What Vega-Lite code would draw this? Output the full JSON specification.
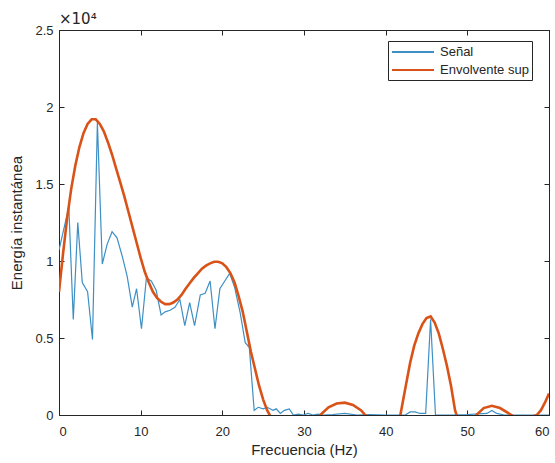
{
  "$schema": "https://vega.github.io/schema/vega-lite/v6.json",
  "width": 490,
  "height": 385,
  "autosize": {"type": "none"},
  "padding": {"left": 59, "top": 30, "right": 6, "bottom": 48},
  "background": "white",
  "title": {"text": "×10⁴", "anchor": "start", "frame": "group", "fontSize": 15, "fontWeight": "normal", "color": "#262626", "font": "DejaVu Sans", "offset": -3},
  "config": {
    "view": {"stroke": "#262626", "strokeWidth": 1},
    "font": "Liberation Sans",
    "axis": {"domainColor": "#262626", "tickColor": "#262626", "labelColor": "#262626", "titleColor": "#262626", "labelFont": "Liberation Sans", "titleFont": "Liberation Sans", "labelFontSize": 13, "titleFontSize": 15, "titleFontWeight": "normal", "grid": false, "tickSize": -5}
  },
  "data": {
    "values": [
      {"f": 0.0, "v": 10700, "serie": "Señal"},
      {"f": 1.2, "v": 13500, "serie": "Señal"},
      {"f": 1.75, "v": 6200, "serie": "Señal"},
      {"f": 2.3, "v": 12500, "serie": "Señal"},
      {"f": 2.85, "v": 8600, "serie": "Señal"},
      {"f": 3.5, "v": 8000, "serie": "Señal"},
      {"f": 4.1, "v": 4900, "serie": "Señal"},
      {"f": 4.7, "v": 19000, "serie": "Señal"},
      {"f": 5.3, "v": 9800, "serie": "Señal"},
      {"f": 5.9, "v": 11100, "serie": "Señal"},
      {"f": 6.5, "v": 11900, "serie": "Señal"},
      {"f": 7.1, "v": 11500, "serie": "Señal"},
      {"f": 7.75, "v": 10300, "serie": "Señal"},
      {"f": 8.35, "v": 9000, "serie": "Señal"},
      {"f": 8.97, "v": 7000, "serie": "Señal"},
      {"f": 9.5, "v": 8200, "serie": "Señal"},
      {"f": 10.1, "v": 5600, "serie": "Señal"},
      {"f": 10.7, "v": 8900, "serie": "Señal"},
      {"f": 11.3, "v": 8700, "serie": "Señal"},
      {"f": 11.9, "v": 8100, "serie": "Señal"},
      {"f": 12.5, "v": 6500, "serie": "Señal"},
      {"f": 13.0, "v": 6700, "serie": "Señal"},
      {"f": 13.6, "v": 6800, "serie": "Señal"},
      {"f": 14.2, "v": 7000, "serie": "Señal"},
      {"f": 14.8, "v": 7500, "serie": "Señal"},
      {"f": 15.4, "v": 5800, "serie": "Señal"},
      {"f": 16.0, "v": 7300, "serie": "Señal"},
      {"f": 16.6, "v": 5800, "serie": "Señal"},
      {"f": 17.3, "v": 7800, "serie": "Señal"},
      {"f": 17.9, "v": 7900, "serie": "Señal"},
      {"f": 18.5, "v": 8700, "serie": "Señal"},
      {"f": 19.1, "v": 5600, "serie": "Señal"},
      {"f": 19.7, "v": 8200, "serie": "Señal"},
      {"f": 20.3, "v": 8700, "serie": "Señal"},
      {"f": 20.9, "v": 9200, "serie": "Señal"},
      {"f": 21.5, "v": 8300, "serie": "Señal"},
      {"f": 22.2, "v": 6600, "serie": "Señal"},
      {"f": 22.8, "v": 4700, "serie": "Señal"},
      {"f": 23.3, "v": 4400, "serie": "Señal"},
      {"f": 23.9, "v": 300, "serie": "Señal"},
      {"f": 24.4, "v": 500, "serie": "Señal"},
      {"f": 25.0, "v": 400, "serie": "Señal"},
      {"f": 25.5, "v": 500, "serie": "Señal"},
      {"f": 26.2, "v": 300, "serie": "Señal"},
      {"f": 26.6, "v": 400, "serie": "Señal"},
      {"f": 27.1, "v": 100, "serie": "Señal"},
      {"f": 27.6, "v": 300, "serie": "Señal"},
      {"f": 28.2, "v": 400, "serie": "Señal"},
      {"f": 28.7, "v": 0, "serie": "Señal"},
      {"f": 29.3, "v": 50, "serie": "Señal"},
      {"f": 29.9, "v": 0, "serie": "Señal"},
      {"f": 30.5, "v": 100, "serie": "Señal"},
      {"f": 31.1, "v": 0, "serie": "Señal"},
      {"f": 31.7, "v": 50, "serie": "Señal"},
      {"f": 32.3, "v": 0, "serie": "Señal"},
      {"f": 33.5, "v": 30, "serie": "Señal"},
      {"f": 35.0, "v": 100, "serie": "Señal"},
      {"f": 36.5, "v": 0, "serie": "Señal"},
      {"f": 38.0, "v": 30, "serie": "Señal"},
      {"f": 40.0, "v": 0, "serie": "Señal"},
      {"f": 42.4, "v": 0, "serie": "Señal"},
      {"f": 43.0, "v": 200, "serie": "Señal"},
      {"f": 43.6, "v": 200, "serie": "Señal"},
      {"f": 44.2, "v": 100, "serie": "Señal"},
      {"f": 44.9, "v": 100, "serie": "Señal"},
      {"f": 45.5, "v": 6200, "serie": "Señal"},
      {"f": 46.1, "v": 0, "serie": "Señal"},
      {"f": 48.0, "v": 0, "serie": "Señal"},
      {"f": 50.0, "v": 30, "serie": "Señal"},
      {"f": 52.4, "v": 100, "serie": "Señal"},
      {"f": 53.0, "v": 300, "serie": "Señal"},
      {"f": 53.6, "v": 100, "serie": "Señal"},
      {"f": 54.5, "v": 0, "serie": "Señal"},
      {"f": 60.0, "v": 0, "serie": "Señal"},
      {"f": 0, "v": 8000, "serie": "Envolvente sup"},
      {"f": 0.5, "v": 10500, "serie": "Envolvente sup"},
      {"f": 1, "v": 12800, "serie": "Envolvente sup"},
      {"f": 1.5, "v": 14700, "serie": "Envolvente sup"},
      {"f": 2, "v": 16200, "serie": "Envolvente sup"},
      {"f": 2.5, "v": 17400, "serie": "Envolvente sup"},
      {"f": 3, "v": 18300, "serie": "Envolvente sup"},
      {"f": 3.5, "v": 18900, "serie": "Envolvente sup"},
      {"f": 4, "v": 19200, "serie": "Envolvente sup"},
      {"f": 4.5, "v": 19200, "serie": "Envolvente sup"},
      {"f": 5, "v": 18900, "serie": "Envolvente sup"},
      {"f": 5.5, "v": 18400, "serie": "Envolvente sup"},
      {"f": 6, "v": 17700, "serie": "Envolvente sup"},
      {"f": 6.5, "v": 16900, "serie": "Envolvente sup"},
      {"f": 7, "v": 16000, "serie": "Envolvente sup"},
      {"f": 7.5, "v": 15100, "serie": "Envolvente sup"},
      {"f": 8, "v": 14200, "serie": "Envolvente sup"},
      {"f": 8.5, "v": 13200, "serie": "Envolvente sup"},
      {"f": 9, "v": 12200, "serie": "Envolvente sup"},
      {"f": 9.5, "v": 11200, "serie": "Envolvente sup"},
      {"f": 10, "v": 10200, "serie": "Envolvente sup"},
      {"f": 10.5, "v": 9300, "serie": "Envolvente sup"},
      {"f": 11, "v": 8600, "serie": "Envolvente sup"},
      {"f": 11.5, "v": 8000, "serie": "Envolvente sup"},
      {"f": 12, "v": 7600, "serie": "Envolvente sup"},
      {"f": 12.5, "v": 7350, "serie": "Envolvente sup"},
      {"f": 13, "v": 7200, "serie": "Envolvente sup"},
      {"f": 13.5, "v": 7200, "serie": "Envolvente sup"},
      {"f": 14, "v": 7300, "serie": "Envolvente sup"},
      {"f": 14.5, "v": 7500, "serie": "Envolvente sup"},
      {"f": 15, "v": 7800, "serie": "Envolvente sup"},
      {"f": 15.5, "v": 8200, "serie": "Envolvente sup"},
      {"f": 16, "v": 8550, "serie": "Envolvente sup"},
      {"f": 16.5, "v": 8900, "serie": "Envolvente sup"},
      {"f": 17, "v": 9200, "serie": "Envolvente sup"},
      {"f": 17.5, "v": 9500, "serie": "Envolvente sup"},
      {"f": 18, "v": 9700, "serie": "Envolvente sup"},
      {"f": 18.5, "v": 9850, "serie": "Envolvente sup"},
      {"f": 19, "v": 9950, "serie": "Envolvente sup"},
      {"f": 19.5, "v": 9950, "serie": "Envolvente sup"},
      {"f": 20, "v": 9850, "serie": "Envolvente sup"},
      {"f": 20.5, "v": 9600, "serie": "Envolvente sup"},
      {"f": 21, "v": 9200, "serie": "Envolvente sup"},
      {"f": 21.5, "v": 8600, "serie": "Envolvente sup"},
      {"f": 22, "v": 7700, "serie": "Envolvente sup"},
      {"f": 22.5, "v": 6700, "serie": "Envolvente sup"},
      {"f": 23, "v": 5400, "serie": "Envolvente sup"},
      {"f": 23.5, "v": 4100, "serie": "Envolvente sup"},
      {"f": 24, "v": 3000, "serie": "Envolvente sup"},
      {"f": 24.5, "v": 1900, "serie": "Envolvente sup"},
      {"f": 25, "v": 1000, "serie": "Envolvente sup"},
      {"f": 25.5, "v": 300, "serie": "Envolvente sup"},
      {"f": 26, "v": -200, "serie": "Envolvente sup"},
      {"f": 27, "v": -1000, "serie": "Envolvente sup"},
      {"f": 29, "v": -1500, "serie": "Envolvente sup"},
      {"f": 31, "v": -500, "serie": "Envolvente sup"},
      {"f": 32, "v": 0, "serie": "Envolvente sup"},
      {"f": 33, "v": 500, "serie": "Envolvente sup"},
      {"f": 34, "v": 750, "serie": "Envolvente sup"},
      {"f": 35, "v": 800, "serie": "Envolvente sup"},
      {"f": 36, "v": 650, "serie": "Envolvente sup"},
      {"f": 37, "v": 300, "serie": "Envolvente sup"},
      {"f": 37.5, "v": 0, "serie": "Envolvente sup"},
      {"f": 38.5, "v": -500, "serie": "Envolvente sup"},
      {"f": 40, "v": -1000, "serie": "Envolvente sup"},
      {"f": 41, "v": -500, "serie": "Envolvente sup"},
      {"f": 41.8, "v": 0, "serie": "Envolvente sup"},
      {"f": 42.5, "v": 2000, "serie": "Envolvente sup"},
      {"f": 43, "v": 3400, "serie": "Envolvente sup"},
      {"f": 43.5, "v": 4500, "serie": "Envolvente sup"},
      {"f": 44, "v": 5300, "serie": "Envolvente sup"},
      {"f": 44.5, "v": 5900, "serie": "Envolvente sup"},
      {"f": 45, "v": 6300, "serie": "Envolvente sup"},
      {"f": 45.5, "v": 6400, "serie": "Envolvente sup"},
      {"f": 46, "v": 6000, "serie": "Envolvente sup"},
      {"f": 46.5, "v": 5300, "serie": "Envolvente sup"},
      {"f": 47, "v": 4300, "serie": "Envolvente sup"},
      {"f": 47.5, "v": 3200, "serie": "Envolvente sup"},
      {"f": 48, "v": 1900, "serie": "Envolvente sup"},
      {"f": 48.5, "v": 300, "serie": "Envolvente sup"},
      {"f": 49, "v": -500, "serie": "Envolvente sup"},
      {"f": 50, "v": -1000, "serie": "Envolvente sup"},
      {"f": 51.1, "v": 0, "serie": "Envolvente sup"},
      {"f": 52, "v": 450, "serie": "Envolvente sup"},
      {"f": 53, "v": 600, "serie": "Envolvente sup"},
      {"f": 54, "v": 450, "serie": "Envolvente sup"},
      {"f": 55.4, "v": 0, "serie": "Envolvente sup"},
      {"f": 56.5, "v": -400, "serie": "Envolvente sup"},
      {"f": 58.5, "v": 0, "serie": "Envolvente sup"},
      {"f": 59, "v": 300, "serie": "Envolvente sup"},
      {"f": 59.5, "v": 800, "serie": "Envolvente sup"},
      {"f": 60, "v": 1400, "serie": "Envolvente sup"}
    ]
  },
  "encoding": {
    "x": {"field": "f", "type": "quantitative", "scale": {"domain": [0, 60], "nice": false, "zero": false}},
    "y": {"field": "v", "type": "quantitative", "scale": {"domain": [0, 25000], "nice": false}},
    "color": {"field": "serie", "type": "nominal", "scale": {"domain": ["Señal", "Envolvente sup"], "range": ["#3d8fc4", "#d95319"]},
      "legend": {"title": null, "orient": "none", "legendX": 329, "legendY": 11, "symbolType": "M -1 0 H 5", "symbolSize": 196, "symbolStrokeWidth": 2, "labelFontSize": 13, "labelColor": "#262626", "labelFont": "Liberation Sans", "strokeColor": "#262626", "fillColor": "white", "padding": 3, "rowPadding": 3, "labelOffset": 33}}
  },
  "layer": [
    {
      "transform": [{"filter": "datum.serie === 'Señal'"}],
      "mark": {"type": "line", "clip": true, "strokeWidth": 1.2},
      "encoding": {
        "x": {"field": "f", "type": "quantitative", "axis": {"values": [0, 10, 20, 30, 40, 50, 60], "title": "Frecuencia (Hz)", "labelPadding": 15, "titlePadding": 4}},
        "y": {"field": "v", "type": "quantitative", "axis": {"values": [0, 5000, 10000, 15000, 20000, 25000], "labelExpr": "datum.value / 10000", "title": "Energía instantánea", "labelPadding": 11, "titlePadding": 10}}
      }
    },
    {
      "transform": [{"filter": "datum.serie === 'Envolvente sup'"}],
      "mark": {"type": "line", "clip": true, "strokeWidth": 2.6},
      "encoding": {
        "x": {"field": "f", "type": "quantitative", "axis": {"orient": "top", "values": [0, 10, 20, 30, 40, 50, 60], "labels": false, "title": null}},
        "y": {"field": "v", "type": "quantitative", "axis": {"orient": "right", "values": [0, 5000, 10000, 15000, 20000, 25000], "labels": false, "title": null}}
      }
    }
  ],
  "resolve": {"axis": {"x": "independent", "y": "independent"}}
}
